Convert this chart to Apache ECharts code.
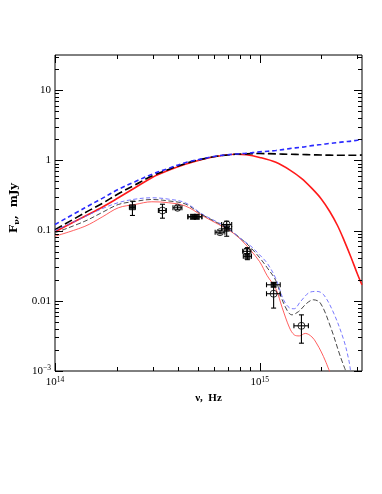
<!DOCTYPE html>
<html><head><meta charset="utf-8">
<style>html,body{margin:0;padding:0;background:#fff;}#chart{width:382px;height:494px;}</style>
<script src="https://cdn.jsdelivr.net/npm/echarts/dist/echarts.min.js"></script>
</head><body><div id="chart"></div>
<script>
// ---- upper (bright) model curves ----
const upperNu = [1.0e14,1.4e14,1.7e14,2.04e14,2.46e14,2.97e14,3.59e14,4.33e14,5.23e14,6.31e14,7.6e14,8.6e14,1.0e15,1.2e15,1.4e15,1.6e15,1.8e15,2.0e15,2.2e15,2.4e15,2.6e15,2.8e15,3.0e15,3.16e15];
const upperRed   = [0.096,0.160,0.215,0.293,0.407,0.566,0.72,0.877,1.03,1.15,1.22,1.20,1.10,0.936,0.731,0.553,0.398,0.282,0.187,0.118,0.0697,0.0411,0.0243,0.0169];
const upperBlack = [0.103,0.179,0.243,0.334,0.447,0.597,0.743,0.90,1.04,1.155,1.22,1.235,1.25,1.235,1.22,1.21,1.20,1.19,1.185,1.18,1.18,1.18,1.185,1.19];
const upperBlue  = [0.122,0.211,0.287,0.386,0.497,0.631,0.769,0.927,1.05,1.16,1.23,1.26,1.32,1.38,1.47,1.54,1.62,1.68,1.74,1.79,1.84,1.88,1.93,1.96];

// ---- lower (fitted) model curves ----
const lowRedNu = [1e14,1.4e14,1.7e14,2.04e14,2.46e14,2.97e14,3.59e14,4.33e14,5.23e14,6.31e14,7e14,8e14,9e14,1e15,1.088e15,1.2e15,1.289e15,1.40e15,1.476e15,1.562e15,1.671e15,1.80e15,1.892e15,2.0e15,2.095e15,2.2e15];
const lowRed   = [0.083,0.115,0.156,0.211,0.235,0.257,0.249,0.224,0.164,0.122,0.104,0.077,0.053,0.036,0.0228,0.0148,0.00794,0.00411,0.00327,0.00316,0.00343,0.00306,0.00251,0.00187,0.00139,0.00097];
const lowBlackNu = [1e14,1.4e14,1.7e14,2.04e14,2.46e14,2.97e14,3.59e14,4.33e14,5.23e14,6.31e14,7e14,8e14,9e14,1e15,1.088e15,1.2e15,1.308e15,1.438e15,1.55e15,1.703e15,1.829e15,1.98e15,2.216e15,2.48e15,2.625e15];
const lowBlack = [0.0927,0.136,0.181,0.235,0.26,0.277,0.264,0.239,0.169,0.126,0.106,0.079,0.058,0.041,0.0296,0.0193,0.00927,0.00631,0.00703,0.00927,0.01033,0.00927,0.0043,0.0016,0.00103];
const lowBlueNu = [1e14,1.4e14,1.7e14,2.04e14,2.46e14,2.97e14,3.59e14,4.33e14,5.23e14,6.31e14,7e14,8e14,9e14,1e15,1.088e15,1.2e15,1.308e15,1.411e15,1.476e15,1.58e15,1.768e15,1.907e15,2.054e15,2.30e15,2.575e15,2.725e15,2.777e15];
const lowBlue  = [0.100,0.158,0.205,0.25,0.28,0.293,0.28,0.249,0.172,0.129,0.109,0.078,0.061,0.045,0.0343,0.0206,0.01033,0.00782,0.0077,0.00968,0.0133,0.0136,0.0122,0.00667,0.00277,0.00144,0.00103];

// ---- observed points ----
const ptNu    = [2.39e14,3.35e14,3.97e14,4.72e14,4.93e14,6.40e14,6.90e14,6.90e14,8.65e14,8.71e14,1.17e15,1.17e15,1.60e15];
const ptF     = [0.215,0.193,0.211,0.157,0.157,0.0947,0.122,0.106,0.0506,0.043,0.0169,0.0126,0.0044];
const ptNuLo  = [2.31e14,3.20e14,3.77e14,4.46e14,4.46e14,6.06e14,6.52e14,6.52e14,8.26e14,8.32e14,1.08e15,1.08e15,1.47e15];
const ptNuHi  = [2.47e14,3.50e14,4.17e14,5.22e14,5.22e14,6.76e14,7.30e14,7.30e14,9.06e14,9.12e14,1.26e15,1.26e15,1.73e15];
const ptFLo   = [0.164,0.150,0.198,0.147,0.147,0.090,0.110,0.083,0.047,0.0385,0.0158,0.00787,0.00249];
const ptFHi   = [0.262,0.237,0.225,0.168,0.168,0.0995,0.136,0.120,0.055,0.057,0.0181,0.0179,0.0063];
const ptFilled= [1,0,0,1,1,0,0,1,0,1,1,0,0];

// ---- axes ----
const xMin = 1e14, xMax = 3.16227766e15, yMin = 1e-3, yMax = 31.6227766;
const xTickValues = [1e14, 1e15];
const xTickTexts  = ['{b|10}{s|14}', '{b|10}{s|15}'];
const yTickValues = [1e-3, 1e-2, 1e-1, 1, 10];
const yTickTexts  = ['{b|10}{s|−3}', '{b|0.01}', '{b|0.1}', '{b|1}', '{b|10}'];
const xMinorTicks = [2e14,3e14,4e14,5e14,6e14,7e14,8e14,9e14,2e15,3e15];
const yMinorTicks = [2e-3,3e-3,4e-3,5e-3,6e-3,7e-3,8e-3,9e-3,
                     2e-2,3e-2,4e-2,5e-2,6e-2,7e-2,8e-2,9e-2,
                     0.2,0.3,0.4,0.5,0.6,0.7,0.8,0.9,
                     2,3,4,5,6,7,8,9,20,30];

const serif = '"Liberation Serif","DejaVu Serif",serif';
const wideSerif = '"DejaVu Serif","Liberation Serif",serif';
function fmt(values, texts) {
  return function (v) {
    for (let i = 0; i < values.length; i++) {
      if (Math.abs(Math.log10(v) - Math.log10(values[i])) < 1e-6) return texts[i];
    }
    return '';
  };
}
const labelRich = {
  b: { fontFamily: serif, fontSize: 11, color: '#000', lineHeight: 13 },
  s: { fontFamily: serif, fontSize: 7.5, color: '#000', verticalAlign: 'top', lineHeight: 13 }
};

const pairs = (xs, ys) => xs.map((v, i) => [v, ys[i]]);

function lineSeries(xs, ys, color, width, type) {
  return {
    type: 'line', data: pairs(xs, ys), showSymbol: false, smooth: 0.35, silent: true,
    lineStyle: { color: color, width: width, type: type }, z: 2, clip: true
  };
}

const xTickData = xTickValues.map(v => [v, 1, 1]).concat(xMinorTicks.map(v => [v, 1, 0]));
const yTickData = yTickValues.map(v => [1e15, v, 1]).concat(yMinorTicks.map(v => [1e15, v, 0]));

function xTickRender(params, api) {
  const cs = params.coordSys;
  const p = api.coord([api.value(0), api.value(1)]);
  const len = api.value(2) ? 8 : 4;
  const x = Math.round(p[0]) + 0.5;
  const top = cs.y, bot = cs.y + cs.height;
  return { type: 'group', children: [
    { type: 'line', shape: { x1: x, y1: bot, x2: x, y2: bot - len }, style: { stroke: '#000', lineWidth: 1 } },
    { type: 'line', shape: { x1: x, y1: top, x2: x, y2: top + len }, style: { stroke: '#000', lineWidth: 1 } }
  ]};
}
function yTickRender(params, api) {
  const cs = params.coordSys;
  const p = api.coord([api.value(0), api.value(1)]);
  const len = api.value(2) ? 8 : 4;
  const y = Math.round(p[1]) + 0.5;
  const l = cs.x, r = cs.x + cs.width;
  return { type: 'group', children: [
    { type: 'line', shape: { x1: l, y1: y, x2: l + len, y2: y }, style: { stroke: '#000', lineWidth: 1 } },
    { type: 'line', shape: { x1: r, y1: y, x2: r - len, y2: y }, style: { stroke: '#000', lineWidth: 1 } }
  ]};
}
function errRender(params, api) {
  const nu = api.value(0), f = api.value(1);
  const pl = api.coord([api.value(2), f]), ph = api.coord([api.value(3), f]);
  const pb = api.coord([nu, api.value(4)]), pt = api.coord([nu, api.value(5)]);
  const cap = 2.5, st = { stroke: '#000', lineWidth: 1.1 };
  return { type: 'group', children: [
    { type: 'line', shape: { x1: pl[0], y1: pl[1], x2: ph[0], y2: ph[1] }, style: st },
    { type: 'line', shape: { x1: pb[0], y1: pb[1], x2: pt[0], y2: pt[1] }, style: st },
    { type: 'line', shape: { x1: pl[0], y1: pl[1] - cap, x2: pl[0], y2: pl[1] + cap }, style: st },
    { type: 'line', shape: { x1: ph[0], y1: ph[1] - cap, x2: ph[0], y2: ph[1] + cap }, style: st },
    { type: 'line', shape: { x1: pb[0] - cap, y1: pb[1], x2: pb[0] + cap, y2: pb[1] }, style: st },
    { type: 'line', shape: { x1: pt[0] - cap, y1: pt[1], x2: pt[0] + cap, y2: pt[1] }, style: st }
  ]};
}

const errData = ptNu.map((v, i) => [v, ptF[i], ptNuLo[i], ptNuHi[i], ptFLo[i], ptFHi[i]]);
const filledData = ptNu.map((v, i) => [v, ptF[i]]).filter((d, i) => ptFilled[i]);
const openData = ptNu.map((v, i) => [v, ptF[i]]).filter((d, i) => !ptFilled[i]);

const chart = echarts.init(document.getElementById('chart'), null, { renderer: 'canvas' });
chart.setOption({
  animation: false,
  backgroundColor: '#fff',
  grid: { left: 55, top: 55, width: 307, height: 316, show: true, borderColor: '#000', borderWidth: 1, backgroundColor: 'transparent' },
  xAxis: {
    type: 'log', logBase: 10, min: xMin, max: xMax,
    axisLine: { show: false }, axisTick: { show: false }, splitLine: { show: false }, minorTick: { show: false },
    axisLabel: { formatter: fmt(xTickValues, xTickTexts), rich: labelRich, margin: 5, showMaxLabel: false },
    name: '{n|ν,  Hz}', nameLocation: 'middle', nameGap: 15,
    nameTextStyle: { rich: { n: { fontFamily: serif, fontWeight: 'bold', fontSize: 11, color: '#000' } } }
  },
  yAxis: {
    type: 'log', logBase: 10, min: yMin, max: yMax,
    axisLine: { show: false }, axisTick: { show: false }, splitLine: { show: false }, minorTick: { show: false },
    axisLabel: { formatter: fmt(yTickValues, yTickTexts), rich: labelRich, margin: 4, showMaxLabel: false },
    name: '{n|F}{sub|ν}{n|,  mJy}', nameLocation: 'middle', nameGap: 29, nameRotate: 90,
    nameTextStyle: { padding: [0, 0, 0, 10], rich: {
      n: { fontFamily: wideSerif, fontWeight: 'bold', fontSize: 11.5, color: '#000', lineHeight: 13 },
      sub: { fontFamily: wideSerif, fontWeight: 'bold', fontSize: 8, color: '#000', verticalAlign: 'bottom', lineHeight: 13 }
    } }
  },
  series: [
    lineSeries(upperNu, upperRed, '#ff1a1a', 1.6, 'solid'),
    lineSeries(upperNu, upperBlack, '#000000', 1.6, [8, 3.5]),
    lineSeries(upperNu, upperBlue, '#2a2aff', 1.6, [4.5, 3]),
    lineSeries(lowRedNu, lowRed, '#ff4d4d', 0.9, 'solid'),
    lineSeries(lowBlackNu, lowBlack, '#333333', 0.9, [5, 2.5]),
    lineSeries(lowBlueNu, lowBlue, '#6a6aff', 0.9, [4, 2.5]),
    { type: 'custom', renderItem: errRender, data: errData, encode: { x: 0, y: 1 }, silent: true, z: 4 },
    { type: 'scatter', data: openData, symbol: 'circle', symbolSize: 7, silent: true, z: 5,
      itemStyle: { color: 'rgba(255,255,255,0)', borderColor: '#000', borderWidth: 1 } },
    { type: 'scatter', data: filledData, symbol: 'rect', symbolSize: 6, silent: true, z: 5,
      itemStyle: { color: '#000' } },
    { type: 'custom', renderItem: xTickRender, data: xTickData, encode: { x: 0, y: 1 }, silent: true, z: 6 },
    { type: 'custom', renderItem: yTickRender, data: yTickData, encode: { x: 0, y: 1 }, silent: true, z: 6 }
  ]
});
</script></body></html>
